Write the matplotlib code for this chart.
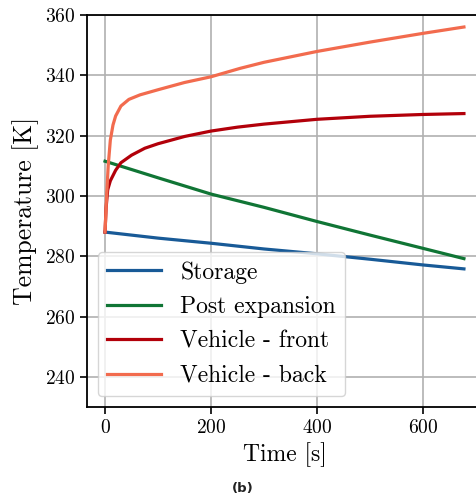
import matplotlib
matplotlib.use("Agg")
import matplotlib.pyplot as plt

# ---------------------------------------------------------------------
# temperatures
t_storage = [0, 100, 200, 300, 400, 500, 600, 677]
T_storage = [288.0, 286.0, 284.3, 282.4, 280.8, 279.0, 277.1, 275.8]

t_post = [0, 100, 200, 300, 400, 500, 600, 677]
T_post = [311.5, 306.0, 300.6, 296.2, 291.5, 287.0, 282.6, 279.2]

t_front = [0, 2, 5, 10, 20, 30, 50, 75, 100, 150, 200, 250, 300, 400, 500, 600, 677]
T_front = [288.0, 296.0, 302.0, 305.0, 308.5, 311.0, 313.5, 315.8, 317.3,
           319.7, 321.5, 322.8, 323.8, 325.4, 326.4, 327.0, 327.3]

t_back = [0, 3, 6, 10, 15, 20, 30, 45, 66, 100, 150, 200, 255, 300, 400, 500, 600, 677]
T_back = [288.0, 300.0, 310.0, 318.5, 323.5, 326.5, 329.8, 332.0, 333.5, 335.2,
          337.6, 339.5, 342.3, 344.3, 347.9, 351.0, 353.9, 356.0]

labels = ["Storage", "Post expansion", "Vehicle - front", "Vehicle - back"]
colors = ["#185a97", "#107535", "#b2000a", "#f26b4e"]

x_ticks = [0, 200, 400, 600]
y_ticks = [240, 260, 280, 300, 320, 340, 360]

plt.rcParams["font.family"] = ["cmr10", "DejaVu Serif"]
plt.rcParams["axes.formatter.use_mathtext"] = True

fig = plt.figure(figsize=(4.77, 4.98), dpi=100)
ax = fig.add_axes([0.1824, 0.1827, 0.828, 0.7873])

series = [(t_storage, T_storage), (t_post, T_post), (t_front, T_front), (t_back, T_back)]
for (t, T), lab, c in zip(series, labels, colors):
    ax.plot(t, T, color=c, linewidth=2.3, label=lab)

ax.set_xlim(-34, 711)
ax.set_ylim(230, 360)
ax.set_xticks(x_ticks)
ax.set_yticks(y_ticks)
ax.tick_params(labelsize=14, length=5, width=1.2)
ax.grid(True, color="#b0b0b0", linewidth=1.2)
for sp in ax.spines.values():
    sp.set_linewidth(1.3)

ax.set_xlabel("Time [s]", fontsize=17)
ax.set_ylabel("Temperature [K]", fontsize=18.5)

ax.legend(loc="lower left", fontsize=17, handlelength=2.3, labelspacing=0.52,
          framealpha=0.8, borderaxespad=0.45)

fig.text(0.509, 0.007, "(b)", fontsize=9.5, fontweight="semibold",
         family="DejaVu Sans", color="#222222", ha="center", va="bottom")

fig.savefig("out.png", dpi=100)
